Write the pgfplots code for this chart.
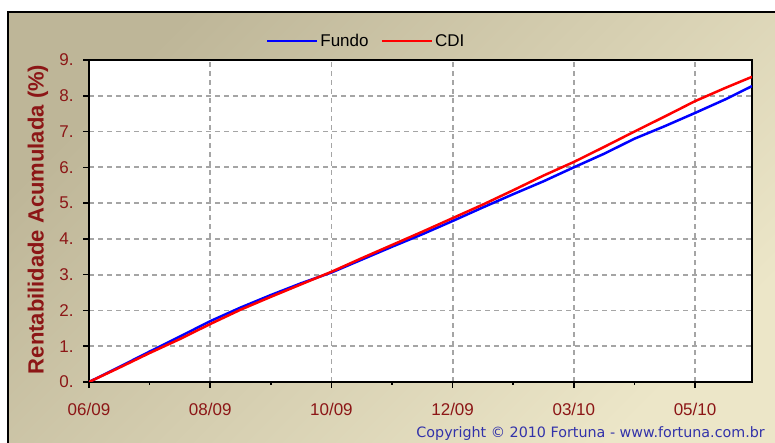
\documentclass[border=0pt]{standalone}
\usepackage{pgfplots}
\pgfplotsset{compat=1.18}
\usepackage{fontspec}
\setmainfont{Liberation Sans}
\newfontfamily\copyfont{DejaVu Sans}
\definecolor{lbl}{RGB}{140,22,22}
\definecolor{bgA}{RGB}{190,182,152}
\definecolor{bgB}{RGB}{236,230,200}
\definecolor{gridc}{RGB}{165,165,165}
\definecolor{copyc}{RGB}{50,50,170}
\begin{document}
\begin{tikzpicture}
\path[use as bounding box] (0bp,0bp) rectangle (775bp,443bp);
\begin{scope}
\clip (0bp,0bp) rectangle (775bp,443bp);
\fill[white] (0bp,0bp) rectangle (775bp,443bp);
\shade[top color=bgA, bottom color=bgB, shading angle=45] (8bp,-5bp) rectangle (785bp,431bp);
\draw[black, line width=2bp] (8bp,-5bp) rectangle (785bp,431bp);
\end{scope}
\begin{axis}[
  at={(89bp,61bp)}, anchor=south west,
  width=663bp, height=322bp, scale only axis,
  xmin=0, xmax=10.94, ymin=0, ymax=9,
  axis background/.style={fill=white},
  axis line style={line width=1.5bp, black},
  xtick={0,2,...,10}, xticklabels={06/09,08/09,10/09,12/09,03/10,05/10},
  minor xtick={1,3,...,9},
  ytick={0,...,9}, yticklabels={0.,1.,2.,3.,4.,5.,6.,7.,8.,9.},
  grid=major,
  major grid style={gridc, line width=1.8bp, dash pattern=on 5bp off 4bp},
  tick align=outside, tick pos=left,
  major tick length=6bp, minor tick length=3bp,
  tick style={black, line width=1.5bp},
  ticklabel style={font=\fontsize{17bp}{20bp}\selectfont, text=lbl},
  xticklabel style={yshift=-12bp},
  yticklabel style={xshift=-6bp},
  ylabel={Rentabilidade Acumulada (\%)},
  ylabel style={font=\bfseries\fontsize{22bp}{26bp}\selectfont, text=lbl, at={(axis description cs:-0.077,0.505)}, anchor=center},
  legend style={at={(axis description cs:0.418,1)}, anchor=south, yshift=8bp, draw=none, fill=none,
    font=\fontsize{17bp}{20bp}\selectfont, /tikz/every even column/.append style={column sep=10bp}},
  legend columns=2,
  legend image code/.code={\draw[#1,line width=2.5bp] (0bp,0bp) -- (50bp,0bp);},
]
\addplot[blue, line width=2.5bp] table {
x y
0 0
0.5 0.42
1.0 0.85
1.5 1.27
2.0 1.70
2.5 2.08
3.0 2.43
3.5 2.76
4.0 3.06
4.5 3.42
5.0 3.78
5.5 4.13
6.0 4.50
6.5 4.88
7.0 5.25
7.5 5.61
8.0 6.00
8.5 6.38
9.0 6.80
9.5 7.15
10.0 7.52
10.5 7.90
10.94 8.27
};
\addlegendentry{Fundo}
\addplot[red, line width=2.5bp] table {
x y
0 0
0.5 0.40
1.0 0.81
1.5 1.20
2.0 1.62
2.5 2.02
3.0 2.38
3.5 2.73
4.0 3.08
4.5 3.46
5.0 3.83
5.5 4.20
6.0 4.58
6.5 4.96
7.0 5.36
7.5 5.77
8.0 6.15
8.5 6.57
9.0 7.00
9.5 7.42
10.0 7.85
10.5 8.22
10.94 8.53
};
\addlegendentry{CDI}
\end{axis}
\node[anchor=base east, text=copyc, font=\copyfont\fontsize{14.3bp}{16bp}\selectfont, inner sep=0pt] at (765bp,6bp) {Copyright © 2010 Fortuna - www.fortuna.com.br};
\end{tikzpicture}
\end{document}
